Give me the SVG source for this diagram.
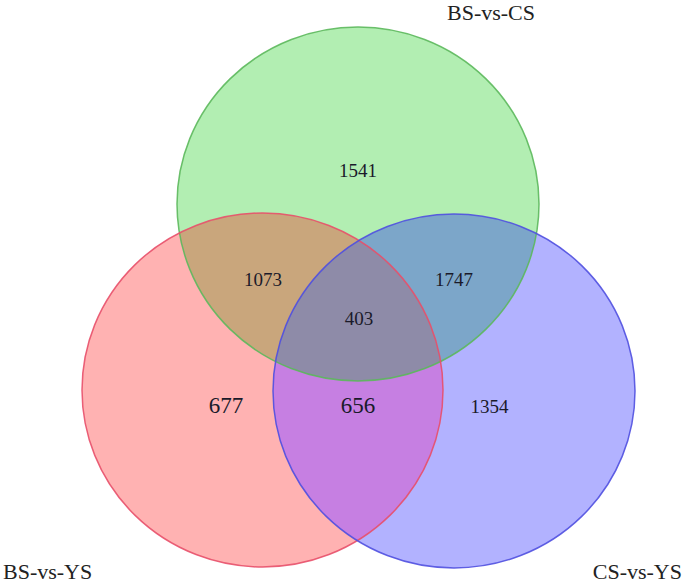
<svg xmlns="http://www.w3.org/2000/svg" width="685" height="585" viewBox="0 0 685 585">
<style>
.set{stroke-width:1.5}
.lab{font-family:"Liberation Serif","Times New Roman",serif;font-size:22px;fill:#222}
.num{font-family:"Liberation Serif","Times New Roman",serif;font-size:19px;fill:#1a1a2a;text-anchor:middle}
.big{font-size:23px}
</style>
<defs>
<clipPath id="clipBlue"><ellipse cx="454" cy="391" rx="181" ry="177"/></clipPath>
<clipPath id="clipRed"><ellipse cx="262.5" cy="390" rx="180.5" ry="177"/></clipPath>
<clipPath id="clipGreen"><ellipse cx="358" cy="204" rx="181" ry="177"/></clipPath>
<mask id="maskRB" maskUnits="userSpaceOnUse" x="0" y="0" width="685" height="585">
<rect width="685" height="585" fill="#000"/>
<g clip-path="url(#clipBlue)"><ellipse cx="262.5" cy="390" rx="180.5" ry="177" fill="#fff"/></g>
<ellipse cx="358" cy="204" rx="181" ry="177" fill="#000"/>
</mask>
</defs>
<rect width="685" height="585" fill="#ffffff"/>
<g id="sets">
<g id="set-bs-cs"><ellipse cx="358" cy="204" rx="181" ry="177" fill="#00c800" fill-opacity="0.3"/></g>
<g id="set-bs-ys"><ellipse cx="262.5" cy="390" rx="180.5" ry="177" fill="#ff0000" fill-opacity="0.3"/></g>
<g id="set-cs-ys"><ellipse cx="454" cy="391" rx="181" ry="177" fill="#0000ff" fill-opacity="0.3"/></g>
<g id="overlap-rb"><rect width="685" height="585" fill="#c67fe2" mask="url(#maskRB)"/></g>
<g id="overlap-all" clip-path="url(#clipGreen)"><g clip-path="url(#clipRed)"><ellipse cx="454" cy="391" rx="181" ry="177" fill="#8e8ba8"/></g></g>
</g>
<g id="outlines" fill="none">
<ellipse class="set" cx="358" cy="204" rx="181" ry="177" stroke="#5cb85c" stroke-opacity="0.9"/>
<ellipse class="set" cx="262.5" cy="390" rx="180.5" ry="177" stroke="#e8506a" stroke-opacity="0.9"/>
<ellipse class="set" cx="454" cy="391" rx="181" ry="177" stroke="#5050e0" stroke-opacity="0.9"/>
</g>
<g id="labels">
<text class="lab" x="447" y="20">BS-vs-CS</text>
<text class="lab" x="3" y="579">BS-vs-YS</text>
<text class="lab" x="682" y="579" text-anchor="end">CS-vs-YS</text>
</g>
<g id="counts">
<text class="num" x="358" y="177">1541</text>
<text class="num" x="263" y="286">1073</text>
<text class="num" x="454" y="286">1747</text>
<text class="num" x="359" y="325">403</text>
<text class="num big" x="226" y="413">677</text>
<text class="num big" x="358" y="413">656</text>
<text class="num" x="489.5" y="413">1354</text>
</g>
</svg>
